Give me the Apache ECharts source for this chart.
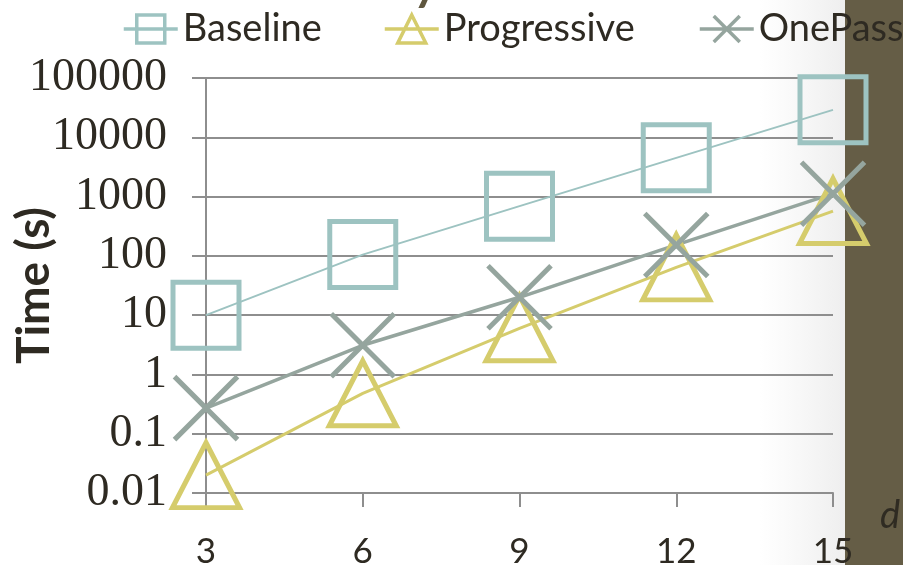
<!DOCTYPE html>
<html>
<head>
<meta charset="utf-8">
<script src="https://cdn.jsdelivr.net/npm/echarts@6/dist/echarts.min.js"></script>
<style>
  html, body { margin: 0; padding: 0; background: #ffffff; }
  #chart { width: 903px; height: 565px; }
</style>
</head>
<body>
<div id="chart"></div>
<script>
// Query dimension d on the x axis, running time (log scale) on the y axis
const categories = ['3', '6', '9', '12', '15'];
const yTickLabels = ['0.01', '0.1', '1', '10', '100', '1000', '10000', '100000'];

// Measured times (s)
const baseline    = [10, 105, 690, 4500, 29000];
const progressive = [0.02, 0.48, 6, 64, 570];
const onePass     = [0.27, 3.1, 20, 153, 1120];

const seriesNames = ['Baseline', 'Progressive', 'OnePass'];
const colors = ['#9DC3C1', '#D5CC6C', '#95A59E'];
const textColor = '#2E2A22';
const gridColor = '#8E8E8E';

const crossPath = 'path://M0 0L10 10M10 0L0 10';
const symbols = ['rect', 'triangle', crossPath];
const symbolSizes = [66, [67, 65], 63];
const markerData = [baseline, progressive, onePass];
const lineWidths = [2, 3, 3.5];

// Legend keys: a short line with the series marker on it
const legendIcons = [
  'path://M0 14H54M13 0H41V28H13Z',
  'path://M0 14H54M27 0L41 28H13Z',
  'path://M0 14H54M14 1L40 27M40 1L14 27'
];
const legendLefts = [117, 378, 693];

const chart = echarts.init(document.getElementById('chart'), null, { renderer: 'canvas' });

const series = seriesNames.map((name, i) => ({
  name: name,
  type: 'line',
  data: markerData[i],
  symbol: symbols[i],
  symbolSize: symbolSizes[i],
  showSymbol: true,
  clip: false,
  color: colors[i],
  lineStyle: { color: colors[i], width: lineWidths[i] },
  itemStyle: { color: 'rgba(0,0,0,0)', borderColor: colors[i], borderWidth: 5 },
  emphasis: { disabled: true },
  z: 3
}));

const option = {
  animation: false,
  backgroundColor: '#ffffff',
  grid: { left: 206, right: 70, top: 78, bottom: 72, containLabel: false, outerBoundsMode: 'none' },
  legend: seriesNames.map((name, i) => ({
    data: [{ name: name, icon: legendIcons[i] }],
    left: legendLefts[i],
    top: 5,
    itemWidth: 54,
    itemHeight: 28,
    itemGap: 0,
    selectedMode: false,
    textStyle: { fontFamily: 'Lato', fontSize: 38, color: textColor },
    itemStyle: { color: 'rgba(0,0,0,0)', borderColor: colors[i], borderWidth: 3.5 }
  })),
  xAxis: {
    type: 'category',
    data: categories,
    boundaryGap: false,
    axisLine: { show: true, lineStyle: { color: gridColor, width: 2 } },
    axisTick: { show: true, length: 14, lineStyle: { color: gridColor, width: 2 } },
    axisLabel: { fontFamily: 'Lato', fontSize: 35, color: textColor, margin: 41 },
    splitLine: { show: false }
  },
  yAxis: {
    type: 'log',
    logBase: 10,
    min: 0.01,
    max: 100000,
    splitNumber: 7,
    name: 'Time (s)',
    nameLocation: 'middle',
    nameGap: 149,
    nameMoveOverlap: false,
    nameTextStyle: { fontFamily: 'Lato', fontWeight: 'bold', fontSize: 46, color: textColor },
    axisLine: { show: true, lineStyle: { color: gridColor, width: 2 } },
    axisTick: { show: true, length: 14, lineStyle: { color: gridColor, width: 2 } },
    minorTick: { show: false },
    axisLabel: {
      fontFamily: 'Liberation Serif',
      fontSize: 46,
      color: textColor,
      margin: 39,
      formatter: v => yTickLabels[Math.round(Math.log10(v)) + 2]
    },
    splitLine: { show: true, lineStyle: { color: gridColor, width: 2 } }
  },
  graphic: [
    {
      type: 'rect',
      z: -101,
      shape: { x: 760, y: 0, width: 86, height: 565 },
      style: {
        fill: new echarts.graphic.LinearGradient(0, 0, 1, 0, [
          { offset: 0, color: 'rgba(240,240,240,0)' },
          { offset: 1, color: 'rgba(238,238,238,1)' }
        ])
      },
      silent: true
    },
    {
      type: 'rect',
      z: -100,
      shape: { x: 845, y: 0, width: 58, height: 565 },
      style: { fill: '#655D46' },
      silent: true
    },
    {
      type: 'text',
      z: -99,
      x: 880,
      y: 497,
      style: { text: 'd', fontFamily: 'Lato', fontStyle: 'italic', fontSize: 38, fill: '#2F2B22' },
      silent: true
    },
    {
      type: 'text',
      z: -99,
      x: 410,
      y: -57,
      style: { text: 'y', fontFamily: 'Lato', fontSize: 66, fill: '#5F573F' },
      silent: true
    }
  ],
  series: series
};

chart.setOption(option);
</script>
</body>
</html>
